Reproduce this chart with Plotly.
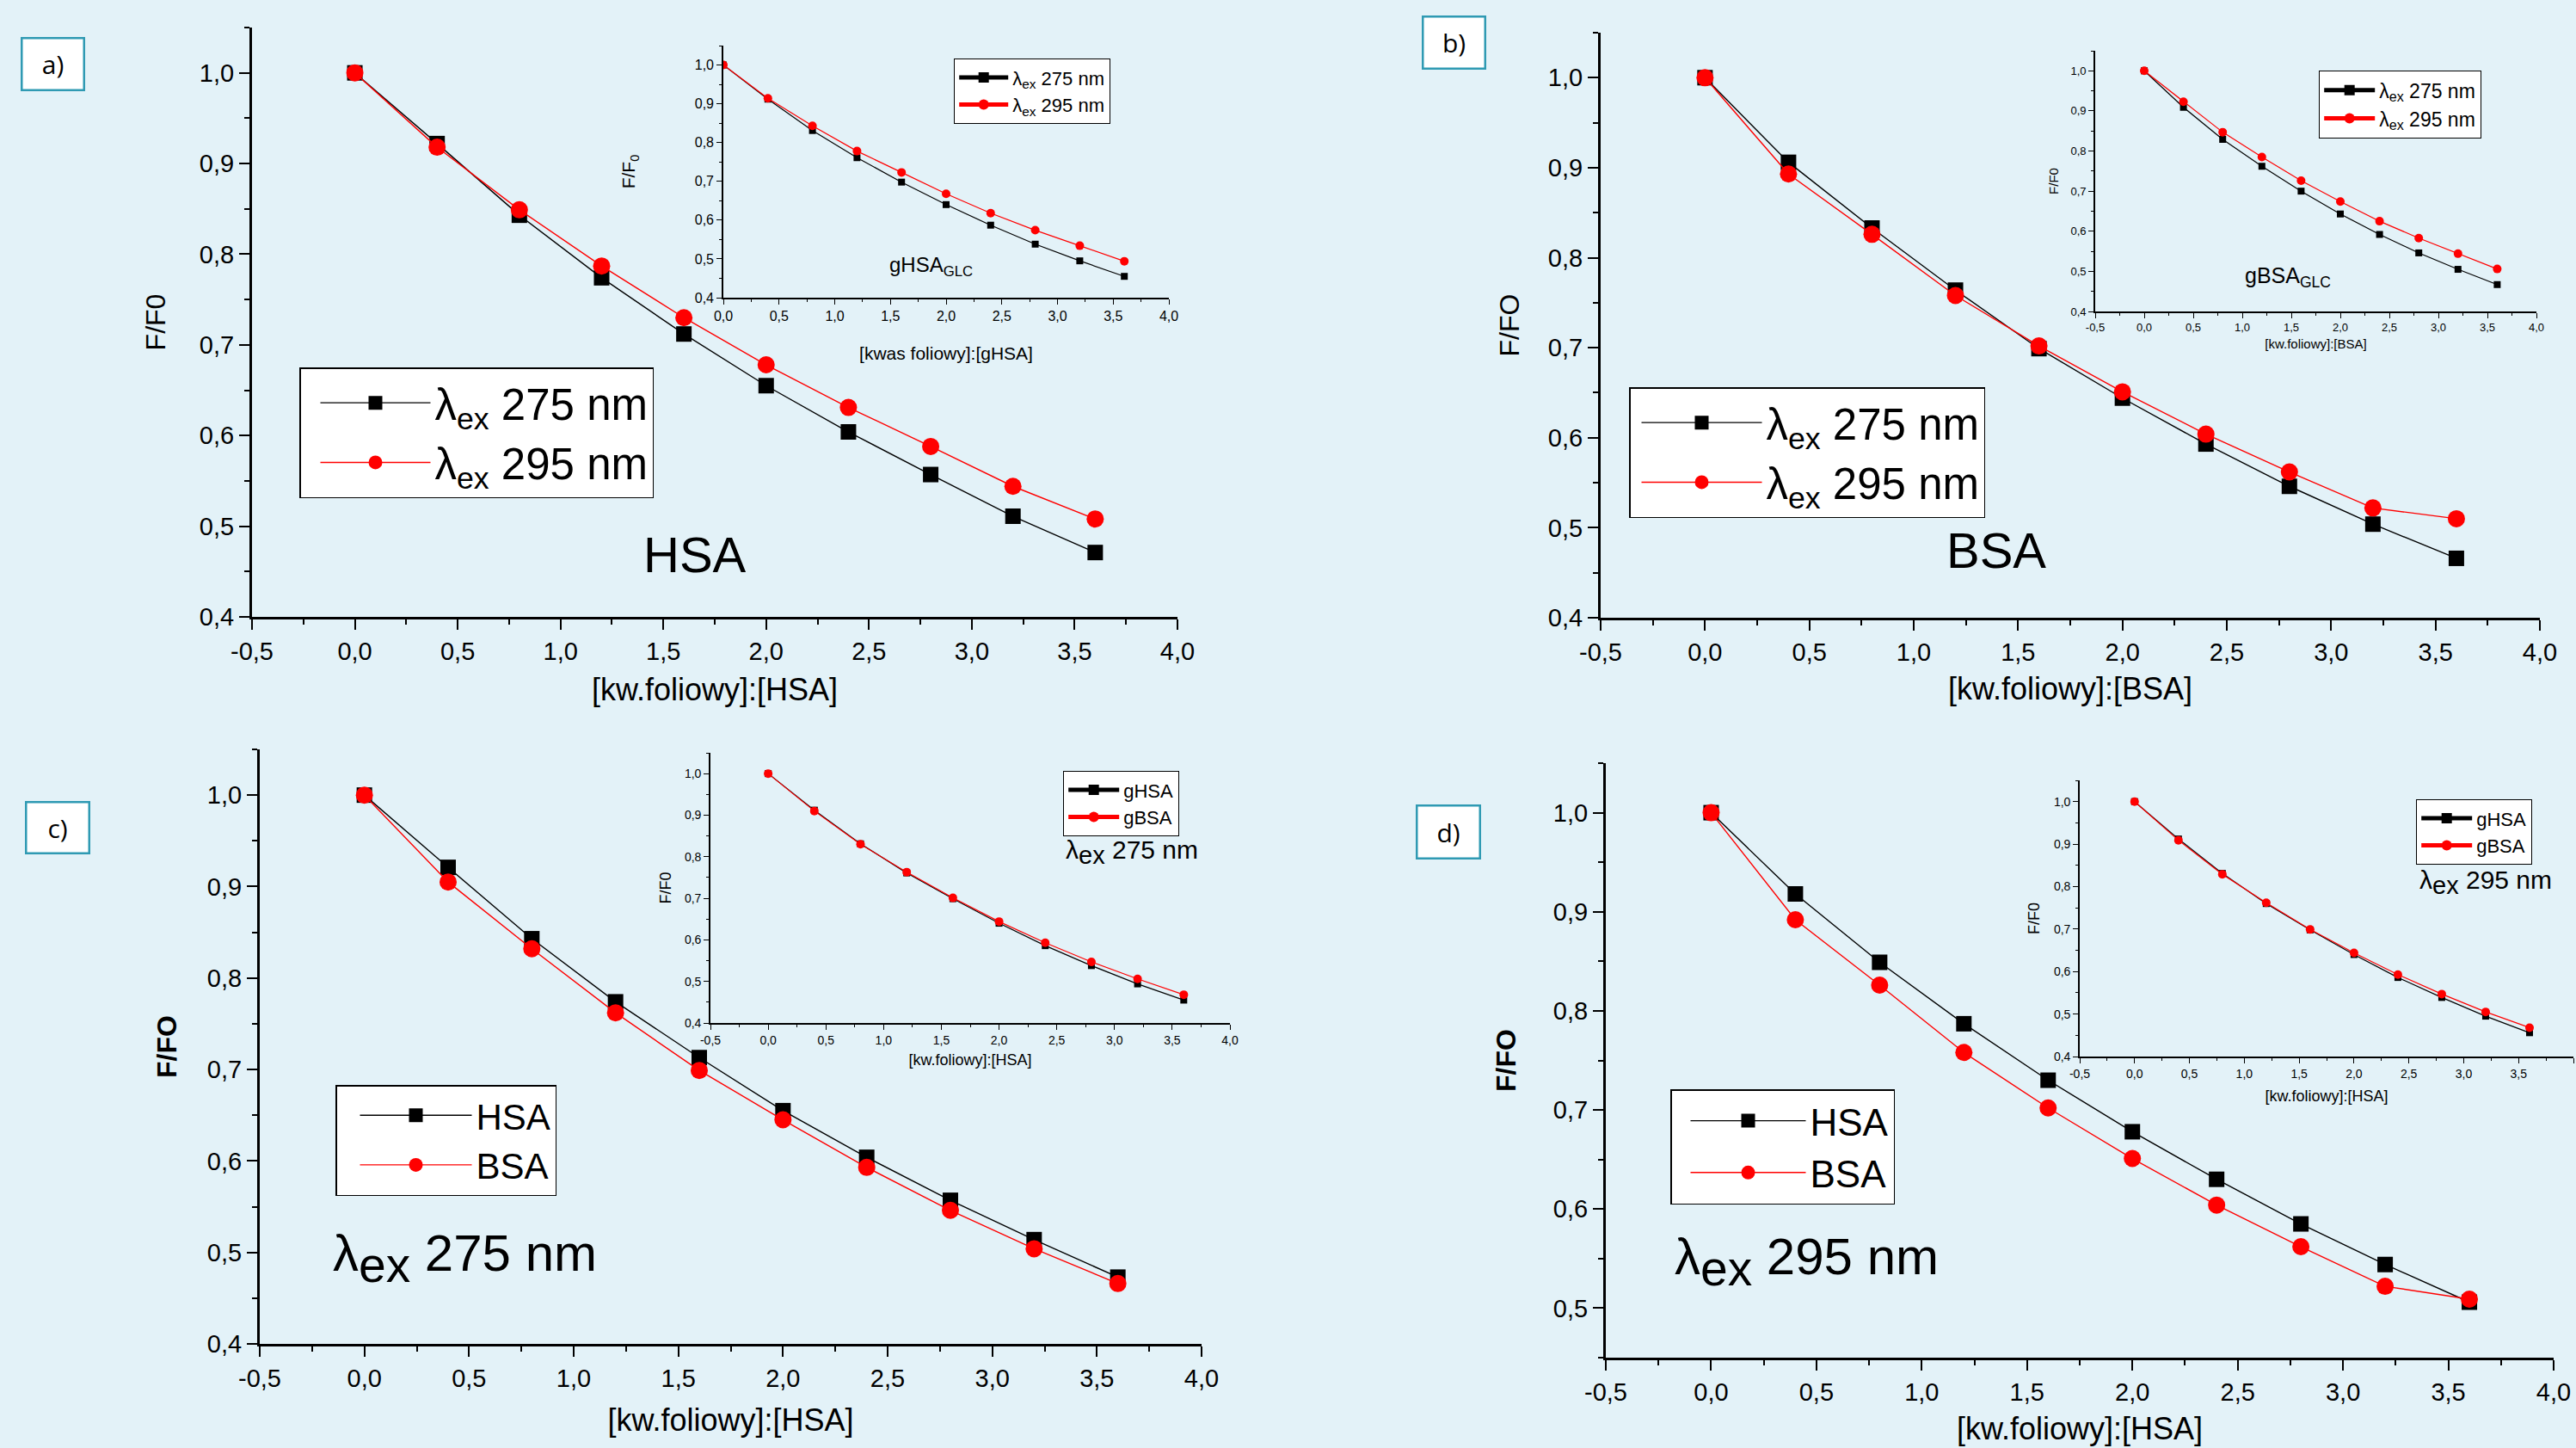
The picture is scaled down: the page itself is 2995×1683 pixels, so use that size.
import plotly.graph_objects as go

W, H = 2995, 1683
BG = "#e3f2f8"
FONT = "Liberation Sans, Arial, sans-serif"

# ---------------- data ----------------
x_conc = [0.0, 0.4, 0.8, 1.2, 1.6, 2.0, 2.4, 2.8, 3.2, 3.6]

a_main_275 = [1.0, 0.922, 0.843, 0.774, 0.712, 0.655, 0.604, 0.557, 0.511, 0.471]
a_main_295 = [1.0, 0.918, 0.849, 0.787, 0.730, 0.678, 0.631, 0.588, 0.544, 0.508]
a_ins_275 = [1.0, 0.912, 0.831, 0.761, 0.698, 0.640, 0.587, 0.538, 0.495, 0.455]
a_ins_295 = [1.0, 0.914, 0.843, 0.778, 0.723, 0.668, 0.618, 0.574, 0.534, 0.494]

b_main_275 = [1.0, 0.906, 0.833, 0.764, 0.699, 0.644, 0.593, 0.546, 0.504, 0.466]
b_main_295 = [1.0, 0.893, 0.826, 0.758, 0.702, 0.651, 0.604, 0.562, 0.522, 0.510]
b_ins_275 = [1.0, 0.909, 0.829, 0.762, 0.700, 0.643, 0.592, 0.546, 0.505, 0.467]
b_ins_295 = [1.0, 0.923, 0.847, 0.785, 0.726, 0.674, 0.625, 0.583, 0.544, 0.506]

c_main_hsa = [1.0, 0.921, 0.843, 0.774, 0.713, 0.655, 0.604, 0.557, 0.514, 0.473]
c_main_bsa = [1.0, 0.905, 0.832, 0.762, 0.699, 0.645, 0.593, 0.546, 0.504, 0.466]
c_ins_ghsa = [1.0, 0.912, 0.831, 0.761, 0.699, 0.640, 0.586, 0.538, 0.494, 0.455]
c_ins_gbsa = [1.0, 0.910, 0.830, 0.763, 0.701, 0.644, 0.593, 0.547, 0.506, 0.468]

d_main_hsa = [1.0, 0.918, 0.849, 0.787, 0.730, 0.678, 0.630, 0.585, 0.544, 0.506]
d_main_bsa = [1.0, 0.892, 0.826, 0.758, 0.702, 0.651, 0.604, 0.562, 0.522, 0.509]
d_ins_ghsa = [1.0, 0.912, 0.831, 0.760, 0.698, 0.640, 0.586, 0.539, 0.495, 0.456]
d_ins_gbsa = [1.0, 0.909, 0.829, 0.762, 0.699, 0.644, 0.593, 0.547, 0.505, 0.468]

# tick labels (decimal comma, plain hyphen)
x_tick_vals = [-0.5, 0.0, 0.5, 1.0, 1.5, 2.0, 2.5, 3.0, 3.5, 4.0]
x_tick_text = ["-0,5", "0,0", "0,5", "1,0", "1,5", "2,0", "2,5", "3,0", "3,5", "4,0"]
y_tick_vals = [0.4, 0.5, 0.6, 0.7, 0.8, 0.9, 1.0]
y_tick_text = ["0,4", "0,5", "0,6", "0,7", "0,8", "0,9", "1,0"]

lab_275 = "λ<sub>ex</sub> 275 nm"
lab_295 = "λ<sub>ex</sub> 295 nm"

# ---------------- panel specs (pixel boxes) ----------------
panels = [
    dict(n=1, box=(293, 1369, 32, 717), xr=[-0.5, 4.0], yr=[0.4, 1.05], main=True,
         xt="[kw.foliowy]:[HSA]", yt="F/F0", xs=18, ys=30,
         series=[(a_main_275, lab_275), (a_main_295, lab_295)],
         leg=dict(x=348, y=427, fs=51, iw=128, ind=18)),
    dict(n=2, box=(841, 1359, 53, 346), xr=[0.0, 4.0], yr=[0.4, 1.05], main=False,
         xt="[kwas foliowy]:[gHSA]", yt="F/F<sub>0</sub>", xs=28, ys=63, tf=16, tfs=21,
         series=[(a_ins_275, lab_275), (a_ins_295, lab_295)],
         leg=dict(x=1109, y=68, fs=22, iw=57, ind=0)),
    dict(n=3, box=(1861, 2953, 38, 718), xr=[-0.5, 4.0], yr=[0.4, 1.05], main=True,
         xt="[kw.foliowy]:[BSA]", yt="F/FO", xs=16, ys=24,
         series=[(b_main_275, lab_275), (b_main_295, lab_295)],
         leg=dict(x=1894, y=450, fs=51, iw=140, ind=8)),
    dict(n=4, box=(2436, 2949, 59, 362), xr=[-0.5, 4.0], yr=[0.4, 1.05], main=False,
         xt="[kw.foliowy]:[BSA]", yt="F/F0", xs=7, ys=10, tf=13, tfs=15,
         series=[(b_ins_275, lab_275), (b_ins_295, lab_295)],
         leg=dict(x=2696, y=82, fs=23, iw=59, ind=0)),
    dict(n=5, box=(302, 1397, 871, 1562), xr=[-0.5, 4.0], yr=[0.4, 1.05], main=True,
         xt="[kw.foliowy]:[HSA]", yt="<b>F/FO</b>", xs=22, ys=26,
         series=[(c_main_hsa, "HSA"), (c_main_bsa, "BSA")],
         leg=dict(x=390, y=1261, fs=42, iw=130, ind=22)),
    dict(n=6, box=(826, 1430, 875, 1189), xr=[-0.5, 4.0], yr=[0.4, 1.05], main=False,
         xt="[kw.foliowy]:[HSA]", yt="F/F0", xs=10, ys=11, tf=14, tfs=18,
         series=[(c_ins_ghsa, "gHSA"), (c_ins_gbsa, "gBSA")],
         leg=dict(x=1236, y=896, fs=22, iw=59, ind=0)),
    dict(n=7, box=(1867, 2969, 887, 1578), xr=[-0.5, 4.0], yr=[0.45, 1.05], main=True,
         xt="[kw.foliowy]:[HSA]", yt="<b>F/FO</b>", xs=16, ys=34,
         series=[(d_main_hsa, "HSA"), (d_main_bsa, "BSA")],
         leg=dict(x=1942, y=1266, fs=44, iw=134, ind=17)),
    dict(n=8, box=(2418, 2992, 907, 1228), xr=[-0.5, 4.0], yr=[0.4, 1.05], main=False,
         xt="[kw.foliowy]:[HSA]", yt="F/F0", xs=13, ys=12, tf=14, tfs=18,
         series=[(d_ins_ghsa, "gHSA"), (d_ins_gbsa, "gBSA")],
         leg=dict(x=2809, y=929, fs=22, iw=59, ind=0)),
]

fig = go.Figure()
layout = dict(
    width=W, height=H,
    margin=dict(l=0, r=0, t=0, b=0, autoexpand=False),
    paper_bgcolor=BG, plot_bgcolor="rgba(0,0,0,0)",
    separators=", ",
    font=dict(family=FONT, color="black"),
    showlegend=True,
)

for p in panels:
    n = p["n"]
    x0, x1, yt_, yb = p["box"]
    xdom = [x0 / W, x1 / W]
    ydom = [1 - yb / H, 1 - yt_ / H]
    main = p["main"]
    sfx = "" if n == 1 else str(n)
    lw = 3 if main else 1.6
    tl = 12 if main else 6
    mtl = 6 if main else 3
    tf = 29 if main else p["tf"]
    xtfs = 36 if main else p["tfs"]
    ytfs = 32 if main else p["tfs"]
    common = dict(
        showline=True, linecolor="black", linewidth=lw, mirror=False, automargin=False,
        showgrid=False, zeroline=False, ticks="outside", ticklen=tl, tickwidth=lw * 0.8,
        tickcolor="black", tickfont=dict(size=tf, family=FONT, color="black"),
        fixedrange=True,
    )
    inx = [(v, t) for v, t in zip(x_tick_vals, x_tick_text) if p["xr"][0] - 1e-9 <= v <= p["xr"][1] + 1e-9]
    iny = [(v, t) for v, t in zip(y_tick_vals, y_tick_text) if p["yr"][0] - 1e-9 <= v <= p["yr"][1] + 1e-9]
    layout["xaxis" + sfx] = dict(
        common, domain=xdom, range=p["xr"], anchor="y" + sfx,
        tickmode="array", tickvals=[v for v, _ in inx], ticktext=[t for _, t in inx],
        minor=dict(ticks="outside", ticklen=mtl, tick0=0, dtick=0.25, tickcolor="black", tickwidth=lw * 0.7),
        title=dict(text=p["xt"], font=dict(size=xtfs, family=FONT, color="black"), standoff=p["xs"]),
    )
    layout["yaxis" + sfx] = dict(
        common, domain=ydom, range=p["yr"], anchor="x" + sfx,
        tickmode="array", tickvals=[v for v, _ in iny], ticktext=[t for _, t in iny],
        minor=dict(ticks="outside", ticklen=mtl, tick0=0.4, dtick=0.05, tickcolor="black", tickwidth=lw * 0.7),
        title=dict(text=p["yt"], font=dict(size=ytfs, family=FONT, color="black"), standoff=p["ys"]),
    )
    legname = "legend" + sfx
    lg = p["leg"]
    layout[legname] = dict(
        x=lg["x"] / W, y=1 - lg["y"] / H, xanchor="left", yanchor="top",
        bgcolor="white", bordercolor="black", borderwidth=1.5 if main else 1.2,
        font=dict(size=lg["fs"], family=FONT, color="black"),
        itemwidth=lg["iw"], traceorder="normal", indentation=lg["ind"],
        itemsizing="trace" if main else "constant",
    )
    msq = 18 if main else 8
    mci = 20 if main else 10
    lwid = 1.4 if main else 1.2
    (s1, n1), (s2, n2) = p["series"]
    fig.add_trace(go.Scatter(
        x=x_conc, y=s1, name=n1, mode="lines+markers",
        line=dict(color="black", width=lwid),
        marker=dict(symbol="square", size=msq, color="black"),
        xaxis="x" + sfx, yaxis="y" + sfx, legend=legname,
    ))
    fig.add_trace(go.Scatter(
        x=x_conc, y=s2, name=n2, mode="lines+markers",
        line=dict(color="red", width=lwid),
        marker=dict(symbol="circle", size=mci, color="red"),
        xaxis="x" + sfx, yaxis="y" + sfx, legend=legname,
    ))

# ---------------- annotations ----------------
ann = []

def pann(text, cx, cy, size, **kw):
    d = dict(text=text, x=cx / W, y=1 - cy / H, xref="paper", yref="paper",
             xanchor="center", yanchor="middle",
             showarrow=False, font=dict(size=size, family=FONT, color="black"))
    d.update(kw)
    ann.append(d)

for txt, (bx0, bx1, by0, by1) in [("a)", (23, 99, 42, 106)), ("b)", (1652, 1728, 18, 82)),
                                  ("c)", (28, 105, 930, 993)), ("d)", (1645, 1722, 934, 999))]:
    ann.append(dict(text=txt, x=(bx0 + bx1) / 2 / W, y=1 - (by0 + by1) / 2 / H,
                    xref="paper", yref="paper", xanchor="center", yanchor="middle", showarrow=False,
                    font=dict(size=30, family="Open Sans, Noto Sans, sans-serif", color="black"),
                    bgcolor="white", bordercolor="#2f9ab3", borderwidth=2.5,
                    width=bx1 - bx0 - 6, height=by1 - by0 - 6, borderpad=0))


def big_ex(nm, fs):
    return "λ<sub><span style='font-size:%dpx'>ex</span></sub> %s" % (fs, nm)


pann("HSA", 808, 644, 58)
pann("BSA", 2321, 640, 58)
pann(big_ex("275 nm", 57), 540, 1462, 60)
pann(big_ex("295 nm", 57), 2100, 1466, 60)
pann("gHSA<sub>GLC</sub>", 1082, 310, 24)
pann("gBSA<sub>GLC</sub>", 2660, 322, 25)
pann(big_ex("275 nm", 29), 1316, 990, 30)
pann(big_ex("295 nm", 29), 2890, 1025, 30)

layout["annotations"] = ann
fig.update_layout(**layout)
fig.write_html("out.html", config={"displayModeBar": False},
               post_script="document.body.style.margin='0';document.body.style.padding='0';"
                           "document.body.style.overflow='hidden';")
